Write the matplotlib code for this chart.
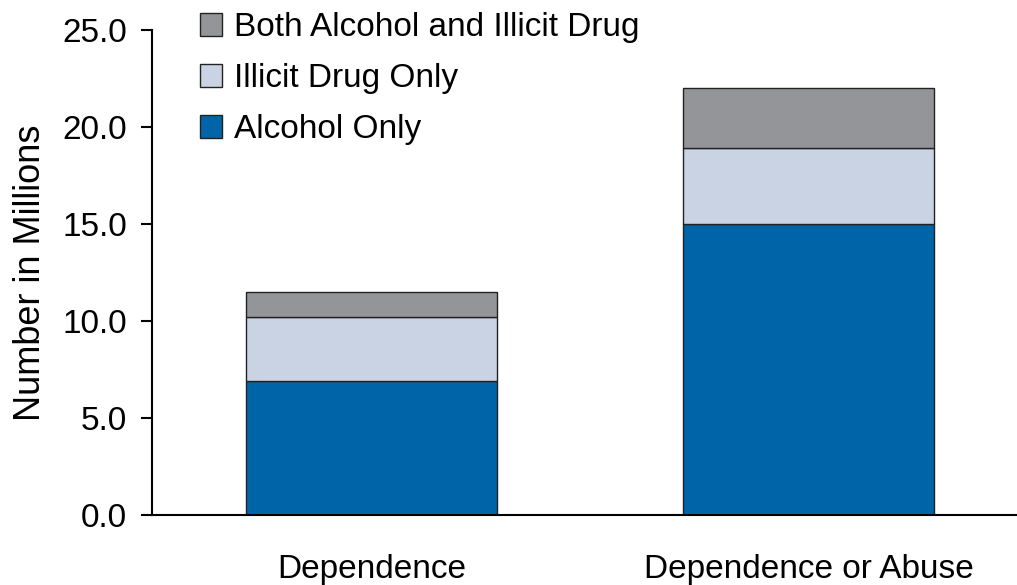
import matplotlib
matplotlib.use("Agg")
import matplotlib.pyplot as plt
from matplotlib.patches import Patch
import numpy as np

plt.rcParams['font.family'] = ['Liberation Sans', 'DejaVu Sans']

categories = ["Dependence", "Dependence or Abuse"]
alcohol_only = [6.9, 15.0]
illicit_only = [3.3, 3.9]
both = [1.3, 3.1]
series_names = ["Alcohol Only", "Illicit Drug Only", "Both Alcohol and Illicit Drug"]
colors = ["#0064A8", "#C9D3E3", "#939598"]
yticks = [0, 5, 10, 15, 20, 25]

fig = plt.figure(figsize=(10.17, 5.85), dpi=100)
W, H = 1017, 585
ax = fig.add_axes([152 / W, 1 - 515 / H, (1017 - 152) / W, (515 - 30) / H])

x = np.arange(len(categories))
bw = 0.574
bottom = np.zeros(len(categories))
handles = []
for vals, name, c in zip([alcohol_only, illicit_only, both], series_names, colors):
    ax.bar(x, vals, bw, bottom=bottom, color=c, edgecolor="#222222", linewidth=1.0, label=name)
    bottom += np.array(vals)
    handles.append(Patch(facecolor=c, edgecolor="#222222", linewidth=1.0, label=name))

fs = 24
ax.set_xlim(-0.502, 1.477)
ax.set_ylim(0, 25)
ax.set_yticks(yticks)
ax.set_yticklabels([f"{v:.1f}" for v in yticks], fontsize=fs)
ax.set_xticks(x)
ax.set_xticklabels(categories, fontsize=fs)
ax.tick_params(axis="x", length=0, pad=28)
ax.tick_params(axis="y", length=8, width=1.5, direction="out", pad=10)
for s in ["top", "right"]:
    ax.spines[s].set_visible(False)
ax.spines["left"].set_linewidth(1.5)
ax.spines["bottom"].set_linewidth(1.5)
ax.set_ylabel("Number in Millions", fontsize=fs + 2, labelpad=10)

leg = fig.legend(handles=handles[::-1], loc="upper left", bbox_to_anchor=(200 / W, 1 - 12 / H),
                 frameon=False, fontsize=fs, handlelength=0.66, handleheight=0.66,
                 handletextpad=0.36, labelspacing=0.6, borderaxespad=0, borderpad=0)

fig.savefig("out.png", dpi=100)
